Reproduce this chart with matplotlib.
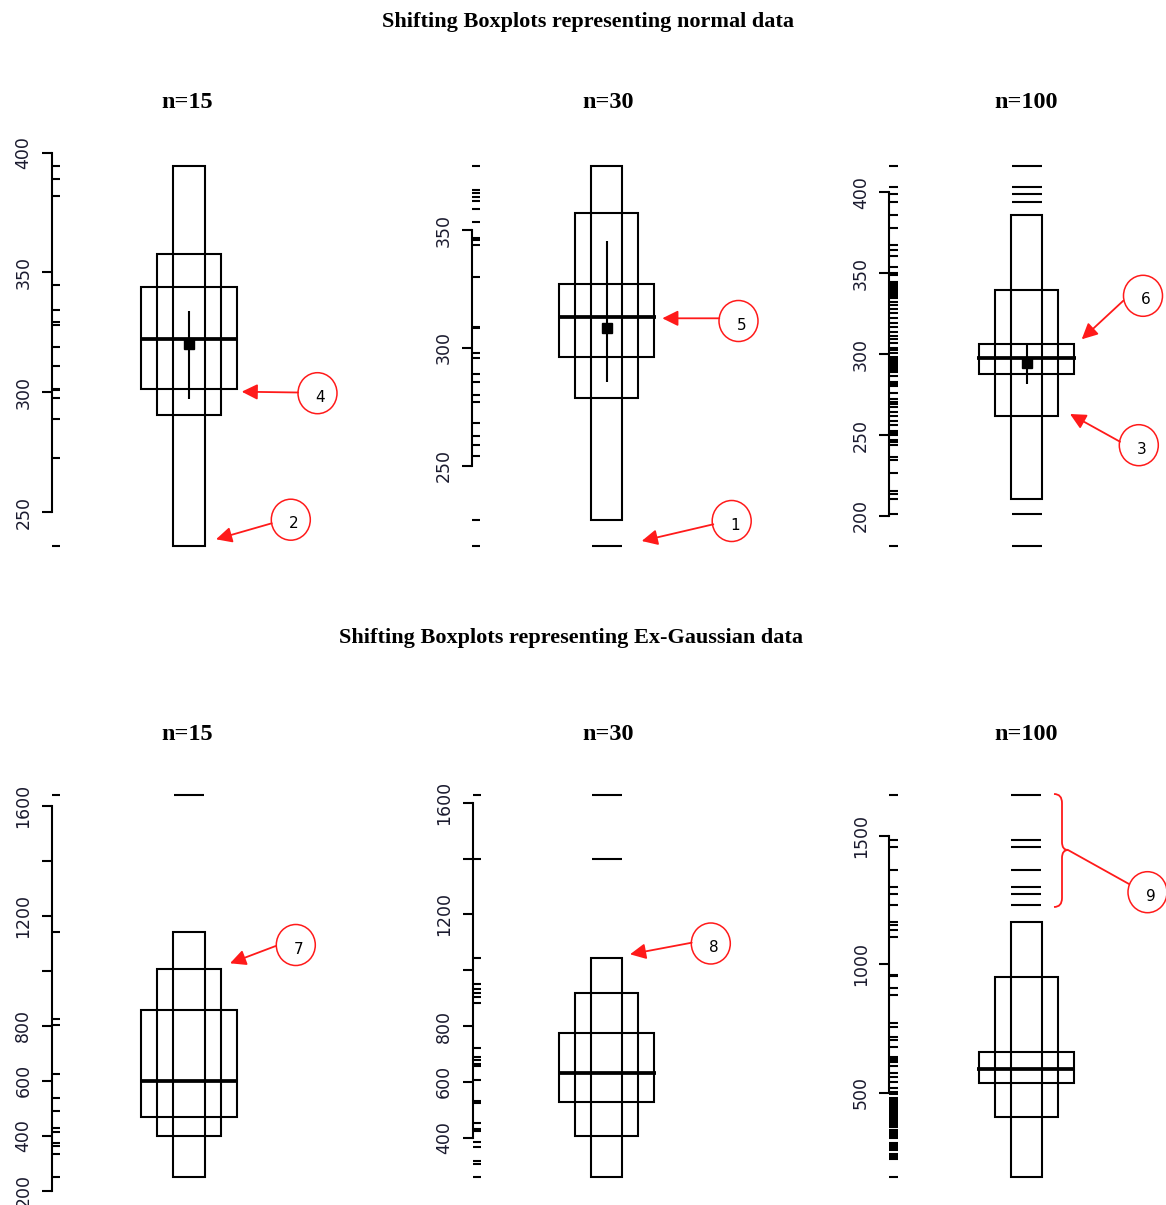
import matplotlib
matplotlib.use("Agg")
import matplotlib.pyplot as plt
import matplotlib.transforms as mtransforms
from matplotlib.patches import Ellipse, Rectangle, FancyArrowPatch, PathPatch
from matplotlib.path import Path

W, H, DPI = 1166, 1205, 100

# ------------------------------------------------------------------ data
row_titles = ["Shifting Boxplots representing normal data",
              "Shifting Boxplots representing Ex-Gaussian data"]
panel_titles = ["n=15", "n=30", "n=100"]

# --- normal data, n=15
norm15_lo = [235.9, 290.4, 301.5]
norm15_hi = [394.4, 357.8, 343.9]
norm15_median = 322.3
norm15_mean = 320.2
norm15_ci = [297.4, 333.8]
norm15_out = []
norm15_rug = [394.4, 389.1, 381.9, 344.6, 334.3, 329.5, 328.1, 319.0, 310.9,
              301.5, 300.8, 297.7, 289.0, 272.6, 235.9]
norm15_ticks = [250, 300, 350, 400]
norm15_labels = ["250", "300", "350", "400"]

# --- normal data, n=30
norm30_lo = [226.8, 278.6, 296.2]
norm30_hi = [377.2, 357.3, 327.0]
norm30_median = 313.2
norm30_mean = 308.6
norm30_ci = [285.4, 345.5]
norm30_out = [215.9]
norm30_rug = [377.2, 367.0, 365.6, 364.2, 362.3, 358.9, 353.3, 346.5, 346.0, 343.6,
              330.2, 308.8, 308.3, 297.7, 295.6, 288.8, 285.7, 280.0, 277.2, 268.3,
              262.6, 258.8, 254.2, 226.8, 215.9]
norm30_ticks = [250, 300, 350]
norm30_labels = ["250", "300", "350"]

# --- normal data, n=100
norm100_lo = [210.3, 261.9, 287.5]
norm100_hi = [385.9, 339.4, 306.2]
norm100_median = 297.4
norm100_mean = 294.7
norm100_ci = [281.3, 305.6]
norm100_out = [416.3, 403.5, 398.8, 394.2, 201.2, 181.4]
norm100_rug = [416.3, 403.5, 398.8, 394.2, 385.9, 377.8, 367.4, 364.3, 360.6, 353.6,
               350.0, 349.0, 344.5, 343.6, 342.7, 341.8, 340.9, 340.0, 339.1, 338.2,
               337.3, 336.4, 335.5, 334.5, 332.4, 330.3, 327.7, 325.2, 322.1, 319.4,
               316.9, 313.8, 311.2, 309.1, 306.7, 303.6, 302.5, 301.0, 298.4, 297.4,
               296.5, 295.5, 294.6, 293.6, 292.7, 291.7, 290.8, 289.8, 289.1, 286.5,
               282.9, 281.6, 280.2, 276.1, 272.0, 270.5, 269.1, 267.1, 264.4, 261.7,
               258.8, 256.2, 252.7, 251.4, 250.0, 246.9, 245.4, 243.8, 236.6, 234.5,
               226.3, 215.6, 213.5, 210.3, 201.2, 181.4]
norm100_ticks = [200, 250, 300, 350, 400]
norm100_labels = ["200", "250", "300", "350", "400"]

# --- Ex-Gaussian data, n=15
exg15_lo = [250.5, 398.7, 466.7]
exg15_hi = [1142.4, 1005.5, 857.4]
exg15_median = 600.0
exg15_out = [1640.0]
exg15_rug = [1640.0, 1142.4, 823.5, 802.8, 624.4, 535.9, 489.7, 426.7, 414.4,
             374.3, 362.3, 333.2, 250.5]
exg15_ticks = [200, 400, 600, 800, 1000, 1200, 1400, 1600]
exg15_labels = ["200", "400", "600", "800", "", "1200", "", "1600"]

# --- Ex-Gaussian data, n=30
exg30_lo = [260.3, 406.1, 526.8]
exg30_hi = [1043.0, 917.3, 775.0]
exg30_median = 632.8
exg30_out = [1627.6, 1398.3]
exg30_rug = [1627.6, 1398.3, 1043.0, 950.2, 931.6, 918.3, 905.1, 883.6, 722.4, 690.1,
             678.3, 663.0, 657.8, 606.7, 532.0, 526.0, 453.7, 430.0, 425.0, 385.6,
             365.6, 317.6, 305.8, 260.3]
exg30_ticks = [400, 600, 800, 1000, 1200, 1400, 1600]
exg30_labels = ["400", "600", "800", "", "1200", "", "1600"]

# --- Ex-Gaussian data, n=100
exg100_lo = [172.8, 404.2, 536.7]
exg100_hi = [1163.8, 950.7, 659.7]
exg100_median = 591.0
exg100_out = [1659.7, 1484.4, 1456.0, 1367.6, 1302.5, 1274.0, 1230.0]
exg100_rug = [1659.7, 1484.4, 1456.0, 1367.6, 1302.5, 1274.0, 1230.0, 1163.8, 1153.3,
              1133.8, 1107.7, 958.5, 955.8, 906.7, 880.6, 770.4, 757.1, 718.2, 705.3,
              679.2, 639.1, 635.0, 629.4, 624.5, 619.6, 604.0, 575.6, 560.0, 542.9,
              519.5, 503.9, 493.8, 479.4, 474.0, 467.2, 462.5, 455.1, 449.8, 444.0,
              437.3, 431.9, 426.0, 420.8, 414.1, 408.6, 402.7, 397.5, 391.0, 385.8,
              379.2, 373.9, 368.0, 354.6, 348.9, 343.0, 337.1, 331.5, 325.8, 322.2,
              305.2, 299.4, 293.1, 287.6, 281.0, 275.0, 261.2, 255.5, 249.0, 243.0,
              172.8]
exg100_ticks = [500, 1000, 1500]
exg100_labels = ["500", "1000", "1500"]

panels = [
    dict(lo=norm15_lo, hi=norm15_hi, med=norm15_median, mean=norm15_mean, ci=norm15_ci,
         out=norm15_out, rug=norm15_rug, ticks=norm15_ticks, labels=norm15_labels),
    dict(lo=norm30_lo, hi=norm30_hi, med=norm30_median, mean=norm30_mean, ci=norm30_ci,
         out=norm30_out, rug=norm30_rug, ticks=norm30_ticks, labels=norm30_labels),
    dict(lo=norm100_lo, hi=norm100_hi, med=norm100_median, mean=norm100_mean, ci=norm100_ci,
         out=norm100_out, rug=norm100_rug, ticks=norm100_ticks, labels=norm100_labels),
    dict(lo=exg15_lo, hi=exg15_hi, med=exg15_median, mean=None, ci=None,
         out=exg15_out, rug=exg15_rug, ticks=exg15_ticks, labels=exg15_labels),
    dict(lo=exg30_lo, hi=exg30_hi, med=exg30_median, mean=None, ci=None,
         out=exg30_out, rug=exg30_rug, ticks=exg30_ticks, labels=exg30_labels),
    dict(lo=exg100_lo, hi=exg100_hi, med=exg100_median, mean=None, ci=None,
         out=exg100_out, rug=exg100_rug, ticks=exg100_ticks, labels=exg100_labels),
]

# ------------------------------------------------------------------ layout (pixels)
spine_x = [51.7, 471.7, 889.5, 51.7, 472.5, 889.5]
box_cx = [137.5, 135.0, 137.0, 137.5, 134.0, 136.8]     # offset from spine
row_top = [150.8, 779.7]
row_bot = [561.2, 1192.0]
AX_W = 300.0
box_w = [31.5, 63.5, 95.5]
med_w = 98.0
out_w = 30.0
rug_len = 8.5
LW = 1.5

fig = plt.figure(figsize=(W / DPI, H / DPI), dpi=DPI)
fig.patch.set_facecolor("white")
pix = mtransforms.Affine2D().scale(1.0 / W, -1.0 / H).translate(0, 1) + fig.transFigure

for i, p in enumerate(panels):
    r = i // 3
    top, bot = row_top[r], row_bot[r]
    ax = fig.add_axes([spine_x[i] / W, 1 - bot / H, AX_W / W, (bot - top) / H])
    allv = list(p["rug"]) + list(p["lo"]) + list(p["hi"]) + list(p["out"])
    vmin, vmax = min(allv), max(allv)
    rng = vmax - vmin
    ax.set_ylim(vmin - 0.04 * rng, vmax + 0.04 * rng)
    ax.set_xlim(0, AX_W)
    ax.patch.set_alpha(0)
    for s in ["top", "right", "bottom"]:
        ax.spines[s].set_visible(False)
    ax.spines["left"].set_linewidth(LW)
    ax.spines["left"].set_bounds(p["ticks"][0], p["ticks"][-1])
    ax.set_xticks([])
    ax.set_yticks(p["ticks"])
    ax.set_yticklabels(p["labels"])
    ax.tick_params(axis="y", direction="out", length=7, width=LW, pad=7,
                   labelsize=12.5, labelrotation=90)
    for lab in ax.get_yticklabels():
        lab.set_va("center")
        lab.set_color("#1a1a2e")

    cx = box_cx[i]
    # rug
    ax.hlines(p["rug"], 0, rug_len, colors="black", linewidth=LW, clip_on=False)
    # nested boxes
    for lo, hi, w in zip(p["lo"], p["hi"], box_w):
        ax.add_patch(Rectangle((cx - w / 2, lo), w, hi - lo, fill=False,
                               edgecolor="black", linewidth=LW))
    # median
    ax.hlines(p["med"], cx - med_w / 2, cx + med_w / 2, colors="black", linewidth=2.7)
    # outliers
    if p["out"]:
        ax.hlines(p["out"], cx - out_w / 2, cx + out_w / 2, colors="black", linewidth=LW)
    # mean and CI
    if p["ci"] is not None:
        ax.vlines(cx, p["ci"][0], p["ci"][1], colors="black", linewidth=LW)
    if p["mean"] is not None:
        ax.plot([cx], [p["mean"]], "s", color="black", markersize=6.5)

# ------------------------------------------------------------------ titles
title_font = dict(family="Liberation Serif", weight="bold", color="black")
fig.text(588, 22, row_titles[0], transform=pix, ha="center", va="center",
         fontsize=16, **title_font)
fig.text(571, 638, row_titles[1], transform=pix, ha="center", va="center",
         fontsize=16, **title_font)
for r, ty in enumerate([103, 734]):
    for j, tx in enumerate([187, 608, 1026]):
        fig.text(tx, ty, panel_titles[j], transform=pix, ha="center", va="center",
                 fontsize=17.5, **title_font)

# ------------------------------------------------------------------ annotations
circles = [  # (label, cx, cy)
    ("4", 317.5, 393.2), ("2", 290.8, 519.7), ("5", 738.5, 321.0), ("1", 731.7, 521.0),
    ("6", 1143.0, 295.8), ("3", 1138.8, 445.2), ("7", 295.8, 945.0), ("8", 710.8, 943.5),
    ("9", 1147.5, 892.2),
]
arrows = [  # (start, tip)
    ((298.0, 392.5), (241.7, 391.7)),
    ((271.7, 523.3), (216.0, 539.3)),
    ((719.3, 318.3), (662.3, 318.3)),
    ((713.3, 524.3), (641.7, 541.0)),
    ((1123.3, 300.7), (1081.7, 339.3)),
    ((1120.0, 441.7), (1070.0, 414.0)),
    ((275.7, 946.0), (230.0, 963.3)),
    ((691.7, 942.7), (630.0, 954.3)),
]
red = "#ff1a1a"
for lab, ccx, ccy in circles:
    fig.add_artist(Ellipse((ccx, ccy), 39, 41, transform=pix, fill=False,
                           edgecolor=red, linewidth=1.1))
    fig.text(ccx + 3, ccy + 4, lab, transform=pix, ha="center", va="center",
             fontsize=11, color="black", family="DejaVu Sans")
for (sx, sy), (tx, ty) in arrows:
    fig.add_artist(FancyArrowPatch((sx, sy), (tx, ty), transform=pix,
                                   arrowstyle="-|>,head_length=0.95,head_width=0.47",
                                   mutation_scale=10, color=red, linewidth=1.3,
                                   shrinkA=0, shrinkB=0))

# curly brace + connector for label 9
bx, by0, by1, tipx, tipy = 1054.0, 794.0, 907.0, 1068.0, 850.0
mx = 1062.0
verts = [(bx, by0), (mx, by0), (mx, by0 + 9),
         (mx, tipy - 8),
         (mx, tipy), (tipx, tipy),
         (mx, tipy), (mx, tipy + 8),
         (mx, by1 - 9),
         (mx, by1), (bx, by1)]
codes = [Path.MOVETO, Path.CURVE3, Path.CURVE3,
         Path.LINETO,
         Path.CURVE3, Path.CURVE3,
         Path.CURVE3, Path.CURVE3,
         Path.LINETO,
         Path.CURVE3, Path.CURVE3]
fig.add_artist(PathPatch(Path(verts, codes), transform=pix, fill=False,
                         edgecolor=red, linewidth=1.3))
fig.add_artist(matplotlib.lines.Line2D([tipx, 1129.0], [tipy, 884.0], transform=pix,
                                       color=red, linewidth=1.3))

fig.savefig("out.png", dpi=DPI, facecolor="white")
